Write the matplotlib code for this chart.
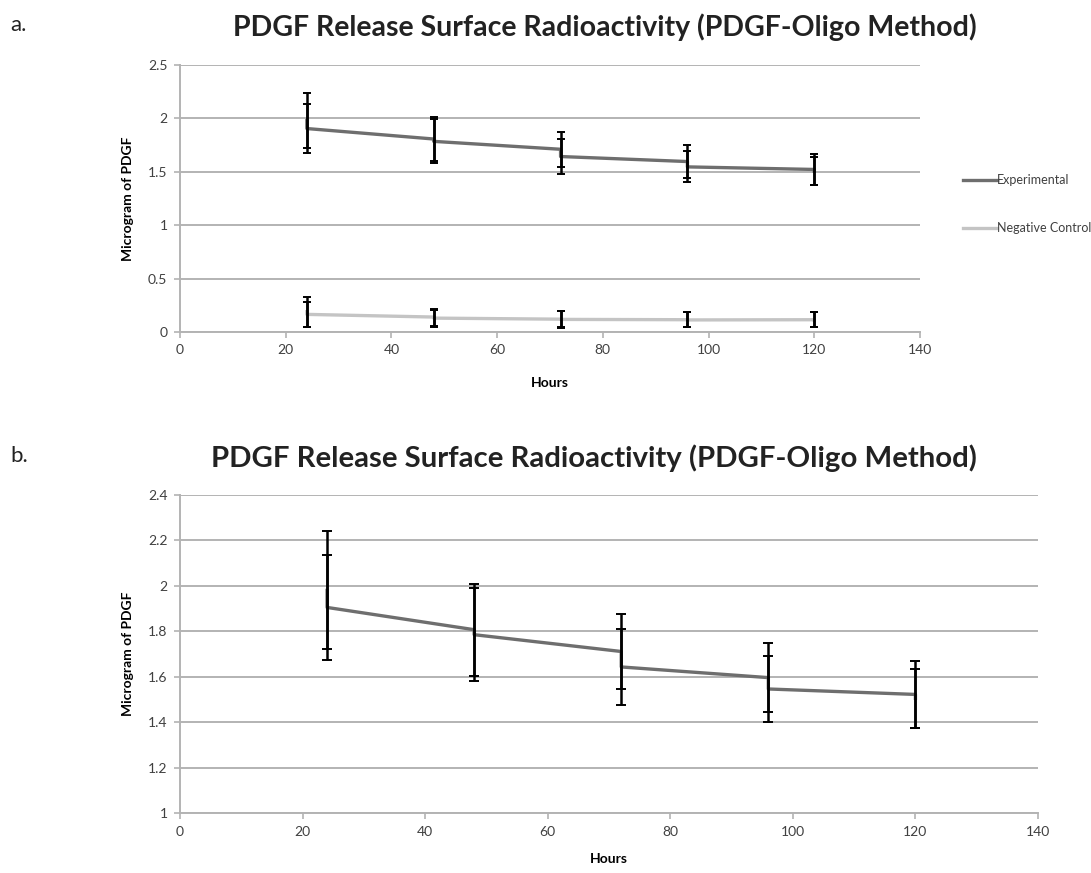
import matplotlib
matplotlib.use('Agg')
import matplotlib.pyplot as plt

plt.rcParams['font.family'] = ['Lato', 'DejaVu Sans']

# Two replicate readings per time point (hours), each with its own error
hours = [24, 24, 48, 48, 72, 72, 96, 96, 120, 120]
experimental = [1.98, 1.905, 1.807, 1.785, 1.711, 1.643, 1.596, 1.546, 1.522, 1.505]
experimental_err = [0.26, 0.23, 0.203, 0.206, 0.163, 0.167, 0.151, 0.146, 0.148, 0.13]
control = [0.19, 0.165, 0.14, 0.13, 0.12, 0.118, 0.115, 0.113, 0.115, 0.113]
control_err = [0.14, 0.12, 0.08, 0.08, 0.08, 0.075, 0.07, 0.07, 0.07, 0.07]

title = 'PDGF Release Surface Radioactivity (PDGF-Oligo Method)'
grid_color = '#b3b3b3'
text_color = '#404040'

W, H = 1091, 873
fig = plt.figure(figsize=(W / 100, H / 100), dpi=100)


def px_axes(left, top, right, bottom):
    return fig.add_axes([left / W, 1 - bottom / H, (right - left) / W, (bottom - top) / H])


def style_axes(ax, ylim, yticks, xpad):
    ax.set_xlim(0, 140)
    ax.set_xticks(range(0, 141, 20))
    ax.set_ylim(*ylim)
    ax.set_yticks(yticks)
    ax.set_yticklabels([f'{t:g}' for t in yticks])
    ax.yaxis.grid(True, color=grid_color, lw=1.4)
    ax.set_axisbelow(True)
    for side in ('top', 'right'):
        ax.spines[side].set_visible(False)
    for side in ('left', 'bottom'):
        ax.spines[side].set_color(grid_color)
        ax.spines[side].set_linewidth(1.4)
    ax.tick_params(direction='out', length=4, width=1.2, color=grid_color,
                   labelsize=10, labelcolor=text_color, pad=5)
    ax.set_xlabel('Hours', fontsize=10, fontweight='bold', labelpad=xpad)
    ax.set_ylabel('Microgram of PDGF', fontsize=10, fontweight='bold', labelpad=10)


def draw_series(ax, y, err, color, label, capsize):
    ax.plot(hours, y, color=color, lw=2.4, label=label, zorder=3)
    ax.errorbar(hours, y, yerr=err, fmt='none', ecolor='black', elinewidth=1.8,
                capsize=capsize, capthick=1.4, zorder=4)


# panel a: both series
ax_a = px_axes(180, 65, 920, 332)
draw_series(ax_a, experimental, experimental_err, '#6e6e6e', 'Experimental', 3)
draw_series(ax_a, control, control_err, '#c4c4c4', 'Negative Control', 3)
style_axes(ax_a, (0, 2.5), [0, 0.5, 1, 1.5, 2, 2.5], xpad=15)
ax_a.legend(loc='center left', bbox_to_anchor=(958 / W, 1 - 204 / H),
            bbox_transform=fig.transFigure, frameon=False, fontsize=9,
            handlelength=2.7, handletextpad=0.05, labelspacing=2.9,
            labelcolor=text_color, borderaxespad=0)

# panel b: experimental only, zoomed
ax_b = px_axes(180, 495, 1038, 813)
draw_series(ax_b, experimental, experimental_err, '#6e6e6e', 'Experimental', 3.6)
style_axes(ax_b, (1, 2.4), [1, 1.2, 1.4, 1.6, 1.8, 2, 2.2, 2.4], xpad=11)

fig.text(605 / W, 1 - 27 / H, title, ha='center', va='center',
         fontsize=20.5, fontweight='bold', color='#222222')
fig.text(594 / W, 1 - 458 / H, title, ha='center', va='center',
         fontsize=21.2, fontweight='bold', color='#222222')
fig.text(10 / W, 1 - 25 / H, 'a.', ha='left', va='center', fontsize=16, color='#222222')
fig.text(10 / W, 1 - 456 / H, 'b.', ha='left', va='center', fontsize=16, color='#222222')

fig.savefig('out.png', dpi=100)
